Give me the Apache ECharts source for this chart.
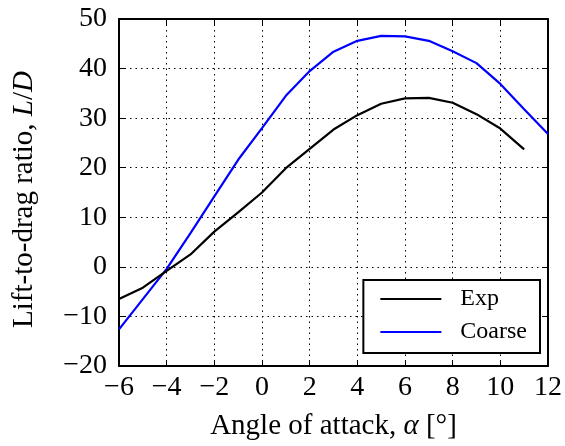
<!DOCTYPE html>
<html><head><meta charset="utf-8">
<script src="https://cdn.jsdelivr.net/npm/echarts@6/dist/echarts.min.js"></script>
<style>html,body{margin:0;padding:0;background:#fff}#c{width:565px;height:446px}</style>
</head><body><div id="c"></div>
<script>
const angles = [-6,-5,-4,-3,-2,-1,0,1,2,3,4,5,6,7,8,9,10,11,12];
const expLD = [-6.5,-4.2,-0.8,2.5,7.1,11.0,15.0,19.9,23.8,27.7,30.6,32.9,34.0,34.1,33.1,30.8,27.9,23.7,null];
const coarseLD = [-12.6,-6.5,-0.4,6.8,14.2,21.6,28.0,34.5,39.5,43.4,45.6,46.6,46.5,45.6,43.5,41.1,36.9,31.8,26.8];
const seriesNames = ['Exp','Coarse'];
const xTitle = 'Angle of attack, {i|α} [°]';
const yTitle = 'Lift-to-drag ratio, {i|L}/{i|D}';

const font = 'Liberation Serif';
const fsTick = 28, fsTitle = 29;
const fmt = v => String(v).replace('-', '\u2212');
const toPairs = arr => angles.map((a,i)=>[a,arr[i]]).filter(p=>p[1]!==null);
const chart = echarts.init(document.getElementById('c'), null, {renderer:'canvas'});
const gridLine = {show:true, lineStyle:{color:'#000', type:[1.5,4], width:1}};
const tick = {show:true, inside:true, length:6, lineStyle:{color:'#000', width:1}};
const axisLine = {show:true, onZero:false, lineStyle:{color:'#000', width:2}};
chart.setOption({
  animation:false,
  textStyle:{fontFamily:font},
  grid:{left:119, right:14, top:19, bottom:80, containLabel:false},
  xAxis:[{
    type:'value', min:-6, max:12, interval:2,
    axisLine, axisTick:tick, splitLine:gridLine,
    axisLabel:{formatter:fmt, color:'#000', fontSize:fsTick, fontFamily:font, margin:8},
    name:xTitle, nameLocation:'middle', nameGap:46,
    nameTextStyle:{color:'#000', fontSize:fsTitle, fontFamily:font, rich:{i:{fontStyle:'italic', fontSize:fsTitle, fontFamily:font}}}
  },{
    type:'value', min:-6, max:12, interval:2, position:'top',
    axisLine, axisTick:tick, splitLine:{show:false}, axisLabel:{show:false}
  }],
  yAxis:[{
    type:'value', min:-20, max:50, interval:10,
    axisLine, axisTick:tick, splitLine:gridLine,
    axisLabel:{formatter:fmt, color:'#000', fontSize:fsTick, fontFamily:font, margin:12},
    name:yTitle, nameLocation:'middle', nameGap:80, nameRotate:90,
    nameTextStyle:{color:'#000', fontSize:fsTitle, fontFamily:font, padding:[0,14,0,0],
      rich:{i:{fontStyle:'italic', fontSize:fsTitle, fontFamily:font}}}
  },{
    type:'value', min:-20, max:50, interval:10, position:'right',
    axisLine, axisTick:tick, splitLine:{show:false}, axisLabel:{show:false}
  }],
  legend:{
    orient:'vertical', right:25, bottom:93,
    backgroundColor:'#fff', borderColor:'#000', borderWidth:2, borderRadius:0,
    padding:[7,13,9,17], itemGap:9,
    icon:'rect', itemWidth:61, itemHeight:2,
    textStyle:{color:'#000', fontSize:24, fontFamily:font, padding:[0,0,0,14]},
    data:seriesNames
  },
  series:[
    {name:seriesNames[0], type:'line', data:toPairs(expLD), showSymbol:false, symbol:'none',
     lineStyle:{color:'#000', width:2.2}, itemStyle:{color:'#000'}, z:3},
    {name:seriesNames[1], type:'line', data:toPairs(coarseLD), showSymbol:false, symbol:'none',
     lineStyle:{color:'#0000ff', width:2.2}, itemStyle:{color:'#0000ff'}, z:2}
  ]
});
</script></body></html>
